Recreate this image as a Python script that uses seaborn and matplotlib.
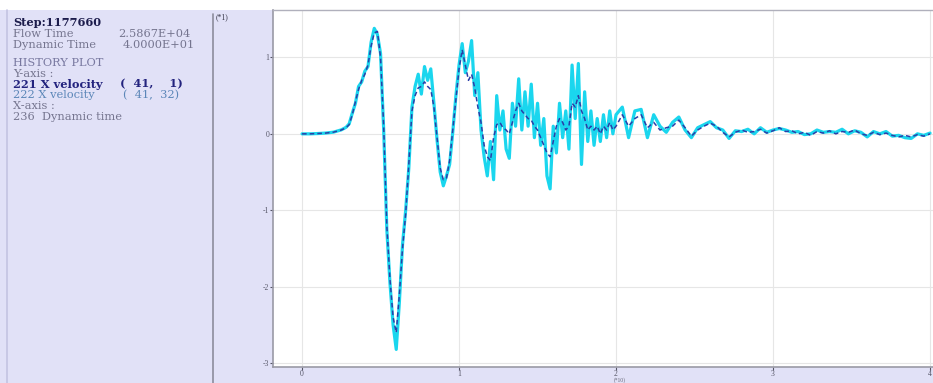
import matplotlib
matplotlib.use("Agg")
import matplotlib.pyplot as plt
import matplotlib.patches as mpatches
import seaborn as sns
import pandas as pd

# ---- data (x in units of 10, y in units of 10) ----
time = [0.00, 0.05, 0.10, 0.15, 0.20, 0.25, 0.28,
        0.30, 0.32, 0.34, 0.36, 0.38, 0.40, 0.42, 0.44, 0.46, 0.48,
        0.50, 0.52, 0.54, 0.56, 0.58, 0.60, 0.62, 0.64, 0.66, 0.68,
        0.70, 0.72, 0.74, 0.76, 0.78, 0.80, 0.82, 0.84, 0.86, 0.88,
        0.90, 0.92, 0.94, 0.96, 0.98, 1.00, 1.02, 1.04, 1.06, 1.08,
        1.10, 1.12, 1.14, 1.16, 1.18, 1.20, 1.22, 1.24, 1.26, 1.28,
        1.30, 1.32, 1.34, 1.36, 1.38, 1.40, 1.42, 1.44, 1.46, 1.48,
        1.50, 1.52, 1.54, 1.56, 1.58, 1.60, 1.62, 1.64, 1.66, 1.68,
        1.70, 1.72, 1.74, 1.76, 1.78, 1.80, 1.82, 1.84, 1.86, 1.88,
        1.90, 1.92, 1.94, 1.96, 1.98, 2.00, 2.04, 2.08, 2.12, 2.16,
        2.20, 2.24, 2.28, 2.32, 2.36, 2.40, 2.44, 2.48, 2.52, 2.56,
        2.60, 2.64, 2.68, 2.72, 2.76, 2.80, 2.84, 2.88, 2.92, 2.96,
        3.00, 3.04, 3.08, 3.12, 3.16, 3.20, 3.24, 3.28, 3.32, 3.36,
        3.40, 3.44, 3.48, 3.52, 3.56, 3.60, 3.64, 3.68, 3.72, 3.76,
        3.80, 3.84, 3.88, 3.92, 3.96, 4.00]

vel_221 = [0.000, 0.000, 0.004, 0.010, 0.022, 0.050, 0.080,
           0.12, 0.25, 0.42, 0.58, 0.70, 0.78, 0.90, 1.15, 1.32, 1.34,
           1.00, 0.10, -1.20, -1.90, -2.40, -2.60, -2.10, -1.50, -1.05, -0.40,
           0.30, 0.50, 0.60, 0.62, 0.68, 0.62, 0.58, 0.35, -0.05, -0.45,
           -0.60, -0.58, -0.35, 0.05, 0.45, 0.85, 1.10, 0.90, 0.70, 0.78,
           0.60, 0.35, 0.15, -0.15, -0.30, -0.35, -0.05, 0.12, 0.15, 0.08,
           0.05, 0.00, 0.15, 0.30, 0.40, 0.30, 0.25, 0.20, 0.18, 0.10,
           0.05, -0.05, -0.15, -0.25, -0.30, -0.10, 0.10, 0.20, 0.15, 0.05,
           0.10, 0.40, 0.35, 0.50, 0.30, 0.20, 0.05, 0.10, 0.05, 0.10,
           0.00, 0.10, 0.05, 0.15, 0.05, 0.10, 0.25, 0.10, 0.20, 0.25,
           0.08, 0.15, 0.05, 0.08, 0.10, 0.18, 0.08, -0.03, 0.05, 0.10,
           0.14, 0.10, 0.02, -0.04, 0.02, 0.05, 0.02, 0.03, 0.06, 0.01,
           0.04, 0.08, 0.03, 0.04, 0.00, 0.02, -0.02, 0.03, 0.01, 0.04,
           0.00, 0.03, 0.02, 0.05, 0.00, -0.02, 0.02, -0.01, 0.01, -0.02,
           -0.04, -0.02, -0.04, -0.01, -0.03, 0.00]

vel_222 = [0.000, 0.000, 0.004, 0.010, 0.022, 0.052, 0.085,
           0.13, 0.27, 0.40, 0.62, 0.68, 0.82, 0.88, 1.20, 1.38, 1.30,
           1.05, 0.05, -1.25, -1.95, -2.50, -2.82, -2.20, -1.45, -1.00, -0.45,
           0.35, 0.62, 0.78, 0.52, 0.88, 0.70, 0.85, 0.40, -0.08, -0.50,
           -0.68, -0.55, -0.40, 0.02, 0.50, 0.90, 1.18, 0.80, 0.95, 1.22,
           0.50, 0.80, 0.05, -0.30, -0.55, -0.10, -0.60, 0.50, 0.05, 0.30,
           -0.20, -0.32, 0.40, 0.10, 0.72, 0.05, 0.55, 0.10, 0.65, -0.05,
           0.40, -0.15, 0.20, -0.55, -0.72, 0.10, -0.25, 0.40, -0.05, 0.30,
           -0.20, 0.90, 0.20, 0.92, -0.40, 0.55, -0.10, 0.30, -0.15, 0.20,
           -0.10, 0.25, -0.05, 0.30, 0.00, 0.25, 0.35, -0.05, 0.30, 0.32,
           -0.05, 0.25, 0.10, 0.02, 0.15, 0.22, 0.05, -0.05, 0.08, 0.12,
           0.16, 0.08, 0.05, -0.06, 0.04, 0.03, 0.06, 0.00, 0.08, 0.02,
           0.05, 0.07, 0.05, 0.02, 0.03, -0.01, 0.00, 0.05, 0.02, 0.03,
           0.02, 0.06, 0.00, 0.04, 0.02, -0.04, 0.03, 0.00, 0.03, -0.03,
           -0.02, -0.05, -0.06, 0.00, -0.02, 0.01]

x_ticks = [0, 1, 2, 3, 4]
y_ticks = [-3, -2, -1, 0, 1]

panel_lines = [
    ("Step:1177660", "#1c1c4c", "bold"),
    ("Flow Time", "#75758f", "normal"),
    ("Dynamic Time", "#75758f", "normal"),
    ("HISTORY PLOT", "#7878a0", "normal"),
    ("Y-axis :", "#75758f", "normal"),
    ("221 X velocity", "#23237e", "bold"),
    ("222 X velocity", "#5b86b8", "normal"),
    ("X-axis :", "#75758f", "normal"),
    ("236  Dynamic time", "#75758f", "normal"),
]
panel_values = {1: "2.5867E+04", 2: "4.0000E+01", 5: "(  41,    1)", 6: "(  41,  32)"}

# ---- figure ----
sns.set_style("whitegrid")
plt.rcParams["font.family"] = ["Liberation Serif", "DejaVu Serif"]

W, H = 933, 383
bg = "#e1e1f7"
fig = plt.figure(figsize=(W / 100, H / 100), dpi=100, facecolor=bg)

# white strip along the top edge
fig.add_artist(mpatches.Rectangle((0, 1 - 10 / H), 1, 10 / H, transform=fig.transFigure,
                                  facecolor="white", edgecolor="none", zorder=0))

ax = fig.add_axes([273 / W, 16 / H, (W - 273) / W, (367 - 10) / H])
ax.set_facecolor("white")

df = pd.DataFrame({"t": time, "v221": vel_221, "v222": vel_222})
sns.lineplot(data=df, x="t", y="v222", ax=ax, color="#1ad6ee", lw=2.3, zorder=3)
sns.lineplot(data=df, x="t", y="v221", ax=ax, color="#2a3fa8", lw=1.1,
             linestyle=(0, (3, 2)), zorder=4)

ax.set_xlim(-0.185, 4.019)
ax.set_ylim(-3.05, 1.62)
ax.set_xticks(x_ticks)
ax.set_yticks(y_ticks)
ax.set_xticklabels([str(v) for v in x_ticks])
ax.set_yticklabels([str(v) for v in y_ticks])
ax.set_xlabel("")
ax.set_ylabel("")
ax.grid(True, color="#e6e6e6", lw=0.8)
ax.tick_params(axis="both", labelsize=5.5, colors="#555566", length=2,
               direction="out", pad=0.5, left=True, bottom=True)
for s in ["top", "right"]:
    ax.spines[s].set_visible(False)
for s in ["left", "bottom"]:
    ax.spines[s].set_visible(True)
    ax.spines[s].set_color("#9a9aa6")
    ax.spines[s].set_linewidth(1.2)
ax.axhline(1.62, color="#b0b0bc", lw=1.0, clip_on=False, zorder=5)

# axis multiplier labels
fig.text(216 / W, 1 - 17 / H, "(*1)", fontsize=5.5, color="#333344",
         ha="left", va="center")
fig.text(620 / W, 1 - 380.5 / H, "(*10)", fontsize=4.0, color="#666677",
         ha="center", va="center")

# left information panel
fig.add_artist(plt.Line2D([7 / W, 7 / W], [0, 1 - 10 / H], transform=fig.transFigure,
                          color="#c4c4e2", lw=1.2))
fig.add_artist(plt.Line2D([213 / W, 213 / W], [0, 1 - 14 / H], transform=fig.transFigure,
                          color="#8c8c9c", lw=1.2))

clip = mpatches.Rectangle((0, 0), 212 / W, 1, transform=fig.transFigure,
                          visible=False)
fig.add_artist(clip)

row_y = [22, 34, 45, 63, 74, 84, 95, 106, 117]
value_x = {1: 118, 2: 123, 5: 120, 6: 123}
for i, (txt, col, wt) in enumerate(panel_lines):
    fig.text(13 / W, 1 - row_y[i] / H, txt, fontsize=8.2, color=col,
             fontweight=wt, ha="left", va="center", family=["DejaVu Serif"])
    if i in panel_values:
        t = fig.text(value_x[i] / W, 1 - row_y[i] / H, panel_values[i], fontsize=8.2,
                     color=col, fontweight=wt, ha="left", va="center",
                     family=["DejaVu Serif"])
        t.set_clip_path(clip)

fig.savefig("out.png", dpi=100, facecolor=bg)
